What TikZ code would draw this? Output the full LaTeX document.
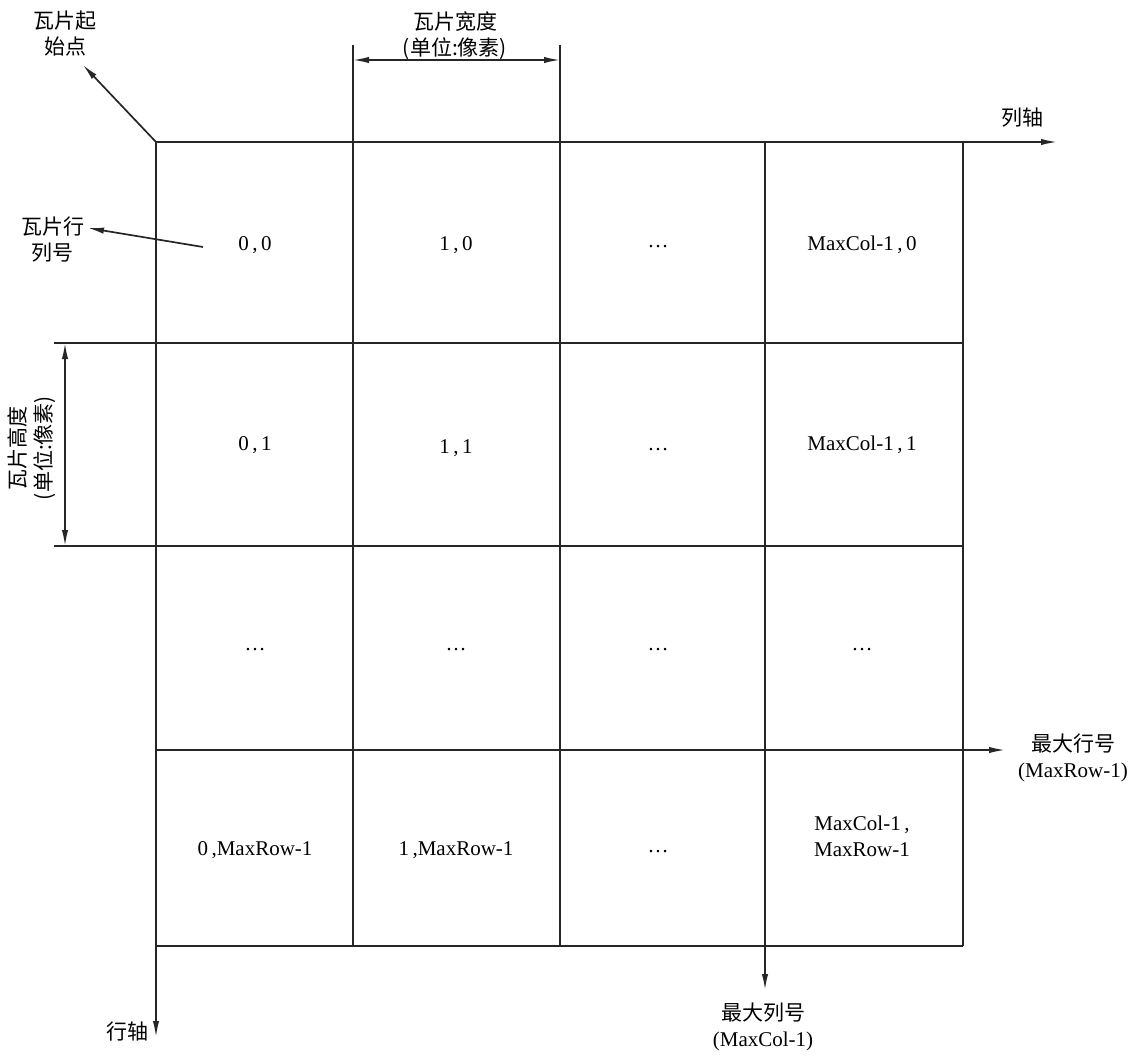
\documentclass[tikz,border=0pt]{standalone}
\usepackage{fontspec}
\setmainfont{Liberation Serif}
\newfontfamily\cjk{Noto Sans CJK SC}
\usetikzlibrary{arrows.meta}
\begin{document}
\begin{tikzpicture}[x=0.5pt,y=-0.5pt,
  ln/.style={line width=0.85pt, draw=black!85},
  tip/.tip={Latex[length=8pt,width=3.2pt]},
  arr/.style={ln, -tip},
  darr/.style={ln, tip-tip},
  cell/.style={font=\fontsize{10.5}{13}\selectfont, align=center, inner sep=1pt},
  lab/.style={font=\cjk\fontsize{10.5}{13}\selectfont, align=center, inner sep=1pt}]
\useasboundingbox (0,0) rectangle (1139,1054);
% grid coordinates
\coordinate (o) at (156,142);
\coordinate (colax) at (1057,142);
\coordinate (rowax) at (156,1037);
\coordinate (c1t) at (353,45);   \coordinate (c1b) at (353,946);
\coordinate (c2t) at (560,45);   \coordinate (c2b) at (560,946);
\coordinate (c3t) at (765,142);  \coordinate (c3b) at (765,990);
\coordinate (c4t) at (963,142);  \coordinate (c4b) at (963,946);
\coordinate (r1l) at (54,343);   \coordinate (r1r) at (963,343);
\coordinate (r2l) at (54,546);   \coordinate (r2r) at (963,546);
\coordinate (r3l) at (156,750);  \coordinate (r3r) at (1005,750);
\coordinate (r4l) at (156,946);  \coordinate (r4r) at (963,946);
\coordinate (wl) at (353,60);    \coordinate (wr) at (560,60);
\coordinate (ht) at (65,343);    \coordinate (hb) at (65,546);
\coordinate (orig) at (83,65);
\coordinate (idxs) at (203,247); \coordinate (idxe) at (88,228);
% lines
\draw[arr] (o) -- (colax);
\draw[arr] (o) -- (rowax);
\draw[ln] (c1t) -- (c1b);
\draw[ln] (c2t) -- (c2b);
\draw[arr] (c3t) -- (c3b);
\draw[ln] (c4t) -- (c4b);
\draw[ln] (r1l) -- (r1r);
\draw[ln] (r2l) -- (r2r);
\draw[arr] (r3l) -- (r3r);
\draw[ln] (r4l) -- (r4r);
\draw[darr] (wl) -- (wr);
\draw[darr] (ht) -- (hb);
\draw[arr] (o) -- (orig);
\draw[arr] (idxs) -- (idxe);
% labels
\node[lab] (lorig) at (65,34) {瓦片起\\始点};
\node[lab] (lidx) at (53,240) {瓦片行\\列号};
\node[lab] (lwid) at (455,36) {瓦片宽度\\(单位:像素)};
\node[lab, rotate=90] (lhei) at (32,448) {瓦片高度\\(单位:像素)};
\node[lab] (lcol) at (1022,118) {列轴};
\node[lab] (lrow) at (127,1032) {行轴};
\node[lab] (lmaxr) at (1073,758) {最大行号\\{\normalfont\fontsize{10.5}{13}\selectfont(MaxRow-1)}};
\node[lab] (lmaxc) at (763,1027) {最大列号\\{\normalfont\fontsize{10.5}{13}\selectfont(MaxCol-1)}};
% cells
\node[cell] (a00) at (255,245) {0\,,\,0};
\node[cell] (a10) at (456,245) {1\,,\,0};
\node[cell] (a20) at (658,247) {…};
\node[cell] (a30) at (862,245) {MaxCol-1\,,\,0};
\node[cell] (a01) at (255,445) {0\,,\,1};
\node[cell] (a11) at (456,448) {1\,,\,1};
\node[cell] (a21) at (658,450) {…};
\node[cell] (a31) at (862,445) {MaxCol-1\,,\,1};
\node[cell] (a02) at (255,650) {…};
\node[cell] (a12) at (456,650) {…};
\node[cell] (a22) at (658,650) {…};
\node[cell] (a32) at (862,650) {…};
\node[cell] (a03) at (255,850) {0\,,MaxRow-1};
\node[cell] (a13) at (456,850) {1\,,MaxRow-1};
\node[cell] (a23) at (658,852) {…};
\node[cell] (a33) at (862,836) {MaxCol-1\,,\\MaxRow-1};
\end{tikzpicture}
\end{document}
